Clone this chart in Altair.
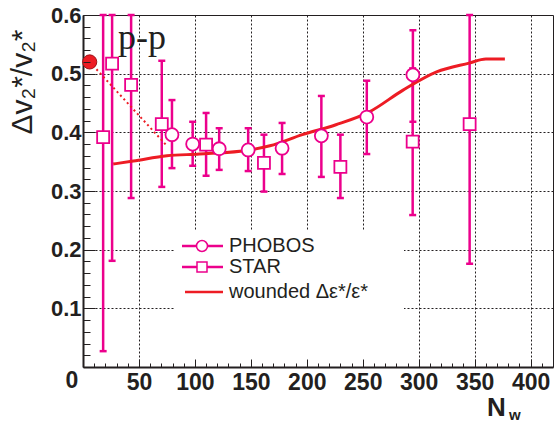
import altair as alt
import pandas as pd

# ---------------- data ----------------
phobos_x = [79.5, 98.0, 121.7, 147.6, 177.9, 213.0, 253.6, 294.8]
phobos_y = [0.396, 0.380, 0.372, 0.370, 0.373, 0.394, 0.426, 0.498]
phobos_lo = [0.339, 0.343, 0.336, 0.334, 0.329, 0.324, 0.363, 0.418]
phobos_hi = [0.455, 0.418, 0.407, 0.407, 0.416, 0.462, 0.488, 0.574]

star_x = [18.0, 26.0, 43.0, 70.4, 110.0, 161.7, 230.0, 294.6, 345.5]
star_y = [0.392, 0.517, 0.481, 0.414, 0.379, 0.348, 0.341, 0.384, 0.414]
star_lo = [0.027, 0.181, 0.288, 0.307, 0.326, 0.299, 0.288, 0.259, 0.176]
star_hi = [0.757, 0.853, 0.674, 0.522, 0.433, 0.396, 0.396, 0.509, 0.652]

wounded_x = [27, 45, 75, 104, 149, 167, 196, 226, 256, 286, 316, 345, 360, 377]
wounded_y = [0.346, 0.351, 0.360, 0.363, 0.370, 0.377, 0.396, 0.413, 0.435,
             0.472, 0.503, 0.518, 0.525, 0.525]

pp_x = [6.0]
pp_y = [0.520]
pp_link_x = [6.0, 75.0]
pp_link_y = [0.520, 0.377]

x_label_values = [50, 100, 150, 200, 250, 300, 350, 400]
y_label_values = [0.1, 0.2, 0.3, 0.4, 0.5, 0.6]
x_grid_values = [50, 100, 150, 200, 250, 300, 350, 400]
y_grid_values = [0.1, 0.2, 0.3, 0.4, 0.5]
x_minor_values = list(range(10, 420, 10))
y_minor_values = [round(0.02 * i, 2) for i in range(1, 30)]

legend_labels = ["PHOBOS", "STAR", "wounded Δε*/ε*"]
y_title = "Δv₂*/v₂*"
x_title_main = "N"
x_title_sub = "w"
pp_label = "p-p"
origin_label = "0"

# ---------------- styling ----------------
INK = "#231f20"
MAG = "#ec008c"
RED = "#ed1c24"
FONT = "Liberation Sans"
SERIF = "Liberation Serif"

xs = alt.Scale(domain=[0, 420], nice=False, zero=False)
ys = alt.Scale(domain=[0, 0.6], nice=False, zero=False, clamp=True)

phobos = pd.DataFrame(dict(x=phobos_x, y=phobos_y, lo=phobos_lo, hi=phobos_hi))
star = pd.DataFrame(dict(x=star_x, y=star_y, lo=star_lo, hi=star_hi))
wounded = pd.DataFrame(dict(x=wounded_x, y=wounded_y))
pp = pd.DataFrame(dict(x=pp_x, y=pp_y))
pp_link = pd.DataFrame(dict(x=pp_link_x, y=pp_link_y))
one = pd.DataFrame({"k": [0]})


def X(field="x"):
    return alt.X(f"{field}:Q", scale=xs, axis=None)


def Y(field="y"):
    return alt.Y(f"{field}:Q", scale=ys, axis=None)


def axis_layer(xaxis=None, yaxis=None):
    return alt.Chart(wounded).mark_point(opacity=0).encode(
        x=alt.X("x:Q", scale=xs, axis=xaxis),
        y=alt.Y("y:Q", scale=ys, axis=yaxis),
    )


# ---------------- axes ----------------
ax_y_labels = axis_layer(yaxis=alt.Axis(
    orient="left", values=y_label_values, format=".1f", labelFont=FONT,
    labelFontWeight="bold", labelFontSize=22, labelColor=INK, labelPadding=2,
    ticks=False, tickSize=0, domain=True, domainColor=INK, domainWidth=2,
    grid=False, title=None))
ax_y_grid = axis_layer(yaxis=alt.Axis(
    orient="left", values=y_grid_values, grid=True, gridColor=INK,
    gridDash=[2, 2], gridWidth=1, labels=False, ticks=False, domain=False,
    title=None))
ax_y_major = axis_layer(yaxis=alt.Axis(
    orient="left", offset=-12, values=y_label_values, tickSize=12,
    tickColor=INK, tickWidth=1, labels=False, domain=False, grid=False,
    title=None, zindex=1))
ax_y_minor = axis_layer(yaxis=alt.Axis(
    orient="left", offset=-7, values=y_minor_values, tickSize=7,
    tickColor=INK, tickWidth=1, labels=False, domain=False, grid=False,
    title=None, zindex=1))

ax_x_labels = axis_layer(xaxis=alt.Axis(
    orient="bottom", values=x_label_values, format="d", labelFont=FONT,
    labelFontWeight="bold", labelFontSize=23, labelColor=INK, labelPadding=4,
    ticks=False, tickSize=0, domain=True, domainColor=INK, domainWidth=2,
    grid=False, title=None, zindex=1))
ax_x_grid = axis_layer(xaxis=alt.Axis(
    orient="bottom", values=x_grid_values, grid=True, gridColor=INK,
    gridDash=[2, 2], gridWidth=1, labels=False, ticks=False, domain=False,
    title=None))
ax_x_major = axis_layer(xaxis=alt.Axis(
    orient="bottom", offset=-8, values=x_label_values, tickSize=8,
    tickColor=INK, tickWidth=1, labels=False, domain=False, grid=False,
    title=None, zindex=1))
ax_x_minor = axis_layer(xaxis=alt.Axis(
    orient="bottom", offset=-4, values=x_minor_values, tickSize=4,
    tickColor=INK, tickWidth=1, labels=False, domain=False, grid=False,
    title=None, zindex=1))

# ---------------- data marks ----------------
def errbars(df):
    rule = alt.Chart(df).mark_rule(color=MAG, strokeWidth=2.5).encode(
        x=X(), y=Y("lo"), y2="hi")
    cap_lo = alt.Chart(df).mark_tick(color=MAG, orient="horizontal", size=7,
                                     thickness=2.5, opacity=1).encode(x=X(), y=Y("lo"))
    cap_hi = alt.Chart(df).mark_tick(color=MAG, orient="horizontal", size=7,
                                     thickness=2.5, opacity=1).encode(x=X(), y=Y("hi"))
    return [rule, cap_lo, cap_hi]


phobos_pts = alt.Chart(phobos).mark_point(
    shape="circle", filled=True, fill="white", stroke=MAG, strokeWidth=1.8,
    size=169, opacity=1).encode(x=X(), y=Y())
star_pts = alt.Chart(star).mark_point(
    shape="square", filled=True, fill="white", stroke=MAG, strokeWidth=1.8,
    size=144, opacity=1).encode(x=X(), y=Y())

curve = alt.Chart(wounded).mark_line(
    color=RED, strokeWidth=3, interpolate="monotone").encode(x=X(), y=Y())
link = alt.Chart(pp_link).mark_line(
    color=RED, strokeWidth=2, strokeDash=[2, 3]).encode(x=X(), y=Y())
pp_pt = alt.Chart(pp).mark_point(
    shape="circle", filled=True, fill=RED, stroke="#9e1218", strokeWidth=1,
    size=200, opacity=1).encode(x=X(), y=Y())

# ---------------- annotations ----------------
pp_text = alt.Chart(one).mark_text(
    text=pp_label, font=SERIF, fontSize=36, color=INK, align="left",
    baseline="alphabetic").encode(x=alt.value(35), y=alt.value(34))

ytitle = alt.Chart(one).mark_text(
    text=y_title, font=FONT, fontSize=30, color=INK, angle=270,
    align="center", baseline="alphabetic").encode(x=alt.value(-51), y=alt.value(67))

xtitle_n = alt.Chart(one).mark_text(
    text=x_title_main, font=FONT, fontSize=26, fontWeight="bold", color=INK,
    align="left", baseline="alphabetic").encode(x=alt.value(404), y=alt.value(401))
xtitle_w = alt.Chart(one).mark_text(
    text=x_title_sub, font=FONT, fontSize=15, fontWeight="bold", color=INK,
    align="left", baseline="alphabetic").encode(x=alt.value(426), y=alt.value(405))

origin = alt.Chart(one).mark_text(
    text=origin_label, font=FONT, fontSize=23, fontWeight="bold", color=INK,
    align="center", baseline="middle").encode(x=alt.value(-11), y=alt.value(366))

# ---------------- legend (drawn inside the frame) ----------------
leg_bg = alt.Chart(one).mark_rect(color="white", opacity=1).encode(
    x=alt.value(91), x2=alt.value(321), y=alt.value(215), y2=alt.value(350))

leg_rows_y = [231, 252, 277]
leg_layers = [leg_bg]
for i, lab in enumerate(legend_labels):
    yy = leg_rows_y[i]
    col = RED if i == 2 else MAG
    x0 = 102 if i == 2 else 99
    leg_layers.append(alt.Chart(one).mark_rule(color=col, strokeWidth=2.5).encode(
        x=alt.value(x0), x2=alt.value(140), y=alt.value(yy)))
    if i < 2:
        leg_layers.append(alt.Chart(one).mark_point(
            shape="circle" if i == 0 else "square", filled=True, fill="white",
            stroke=MAG, strokeWidth=1.5, size=121 if i == 0 else 100,
            opacity=1).encode(x=alt.value(119), y=alt.value(yy)))
    leg_layers.append(alt.Chart(one).mark_text(
        text=lab, font=FONT, fontSize=20, color=INK, align="left",
        baseline="middle").encode(x=alt.value(146), y=alt.value(yy)))

layers = [ax_x_grid, ax_y_grid, ax_y_labels, ax_y_major, ax_y_minor,
          ax_x_labels, ax_x_major, ax_x_minor]
layers += leg_layers
layers += errbars(star) + errbars(phobos)
layers += [curve, link, star_pts, phobos_pts, pp_pt]
layers += [pp_text, ytitle, xtitle_n, xtitle_w, origin]

chart = alt.layer(*layers).properties(
    width=470, height=352,
    autosize=alt.AutoSizeParams(type="none"),
    padding={"left": 83, "top": 15, "right": 2, "bottom": 55},
    background="white",
).resolve_axis(x="independent", y="independent").configure_view(
    stroke=INK, strokeWidth=1)

chart.save("out.html", embed_options={"renderer": "svg", "actions": False})
